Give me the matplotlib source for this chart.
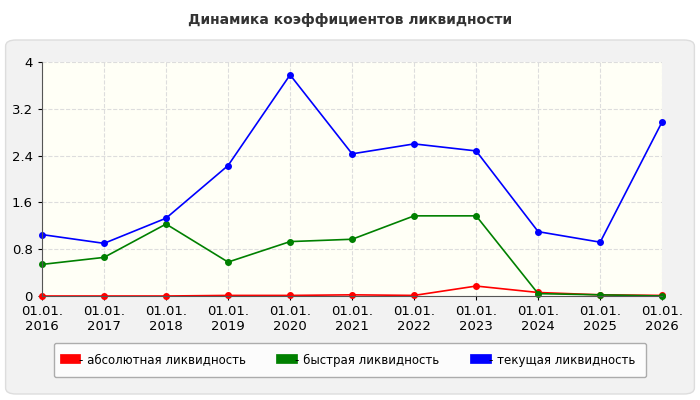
import matplotlib.pyplot as plt
from matplotlib.patches import FancyBboxPatch

years = ['01.01.\n2016', '01.01.\n2017', '01.01.\n2018', '01.01.\n2019', '01.01.\n2020', '01.01.\n2021',
         '01.01.\n2022', '01.01.\n2023', '01.01.\n2024', '01.01.\n2025', '01.01.\n2026']
absolute = [0.0, 0.0, 0.0, 0.01, 0.01, 0.02, 0.01, 0.17, 0.06, 0.02, 0.01]
quick = [0.54, 0.66, 1.23, 0.58, 0.93, 0.97, 1.37, 1.37, 0.04, 0.02, 0.0]
current = [1.05, 0.9, 1.33, 2.23, 3.78, 2.43, 2.6, 2.48, 1.1, 0.92, 2.98]
yticks = [0, 0.8, 1.6, 2.4, 3.2, 4]

fig = plt.figure(figsize=(7, 4), dpi=100)
fig.patch.set_facecolor('white')
bg = FancyBboxPatch((0.008, 0.015), 0.984, 0.885, boxstyle='round,pad=0,rounding_size=0.015',
                    transform=fig.transFigure, facecolor='#f2f2f2', edgecolor='#dddddd', zorder=-10)
fig.patches.append(bg)
fig.text(0.5, 0.95, 'Динамика коэффициентов ликвидности', ha='center', va='center',
         fontsize=10, fontweight='bold', color='#333333')

ax = fig.add_axes([0.06, 0.26, 0.886, 0.585])
ax.set_facecolor('#fffff6')
x = range(len(years))
ax.plot(x, absolute, color='red', marker='o', ms=4, lw=1.2, label='- абсолютная ликвидность', clip_on=False)
ax.plot(x, quick, color='green', marker='o', ms=4, lw=1.2, label='- быстрая ликвидность', clip_on=False)
ax.plot(x, current, color='blue', marker='o', ms=4, lw=1.2, label='- текущая ликвидность', clip_on=False)
ax.set_xlim(0, len(years) - 1)
ax.set_ylim(0, 4)
ax.set_yticks(yticks)
ax.set_yticklabels(['0', '0.8', '1.6', '2.4', '3.2', '4'])
ax.set_xticks(list(x))
ax.set_xticklabels(years, fontsize=9.5)
ax.tick_params(labelsize=9.5, length=3)
ax.grid(True, ls='--', color='#dddddd', lw=0.8)
for s in ['top', 'right']:
    ax.spines[s].set_visible(False)
for s in ['left', 'bottom']:
    ax.spines[s].set_color('#555555')

leg = fig.legend(loc='center', bbox_to_anchor=(0.5, 0.1), ncol=3, fontsize=8.5,
                 handlelength=1.0, handleheight=0.7, markerscale=0, fancybox=True,
                 edgecolor='#999999', borderpad=0.9, columnspacing=3.0, handletextpad=0.2)
for h in leg.legend_handles:
    h.set_linewidth(7)
plt.savefig('out.png', dpi=100)
